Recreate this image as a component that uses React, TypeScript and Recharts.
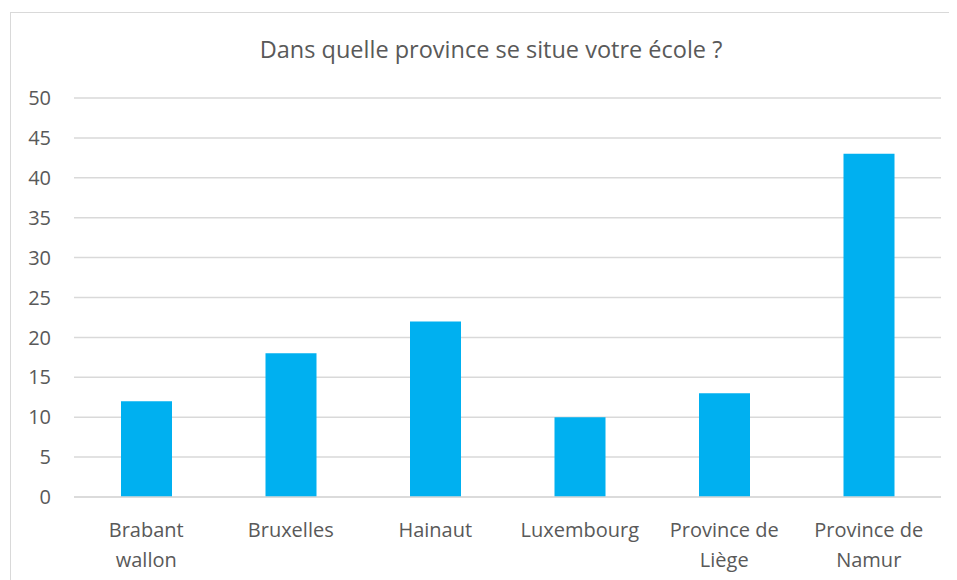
import { BarChart, Bar, XAxis, YAxis, CartesianGrid } from 'recharts';

const provinces = [
  'Brabant wallon',
  'Bruxelles',
  'Hainaut',
  'Luxembourg',
  'Province de Liège',
  'Province de Namur',
];
const counts = [12, 18, 22, 10, 13, 43];
const yTicks = [0, 5, 10, 15, 20, 25, 30, 35, 40, 45, 50];

const data = provinces.map((name, i) => ({ name, value: counts[i] }));

const FONT = '"Open Sans", sans-serif';
const GREY = '#595959';

// two-word labels go on two lines, split at the last space
function splitLabel(s: string): string[] {
  const i = s.lastIndexOf(' ');
  if (i < 0) return [s];
  return [s.slice(0, i), s.slice(i + 1)];
}

function ProvinceTick(props: any) {
  const { x, y, payload } = props;
  const lines = splitLabel(String(payload.value));
  return (
    <text
      x={x}
      y={y}
      textAnchor="middle"
      fill={GREY}
      style={{ fontFamily: FONT, fontSize: 20 }}
    >
      {lines.map((l, i) => (
        <tspan key={i} x={x} dy={i === 0 ? 14 : 30}>
          {l}
        </tspan>
      ))}
    </text>
  );
}

export default function App() {
  return (
    <div style={{ position: 'relative', width: 949, height: 572, overflow: 'hidden' }}>
      <div
        style={{
          position: 'absolute',
          left: 2,
          top: 4,
          width: 978,
          height: 598,
          border: '1px solid #d9d9d9',
          background: '#fff',
        }}
      >
        <div
          style={{
            position: 'absolute',
            left: 0,
            top: 24,
            width: 960,
            textAlign: 'center',
            fontFamily: FONT,
            fontSize: 23.5,
            lineHeight: '24px',
            color: GREY,
          }}
        >
          Dans quelle province se situe votre école ?
        </div>
        <BarChart
          width={978}
          height={598}
          data={data}
          margin={{ top: 85, right: 48, left: 0, bottom: 54 }}
        >
          <CartesianGrid vertical={false} stroke="#d9d9d9" strokeWidth={1.5} />
          <XAxis
            dataKey="name"
            height={60}
            tickLine={false}
            tickSize={0}
            tickMargin={26}
            axisLine={{ stroke: '#d9d9d9', strokeWidth: 1.5 }}
            interval={0}
            tick={<ProvinceTick />}
          />
          <YAxis
            width={63}
            domain={[0, 50]}
            ticks={yTicks}
            axisLine={false}
            tickLine={false}
            tickSize={0}
            tickMargin={23}
            tick={{ fill: GREY, fontSize: 20, fontFamily: FONT }}
          />
          <Bar dataKey="value" fill="#00B0F0" barSize={51} isAnimationActive={false} />
        </BarChart>
      </div>
    </div>
  );
}
